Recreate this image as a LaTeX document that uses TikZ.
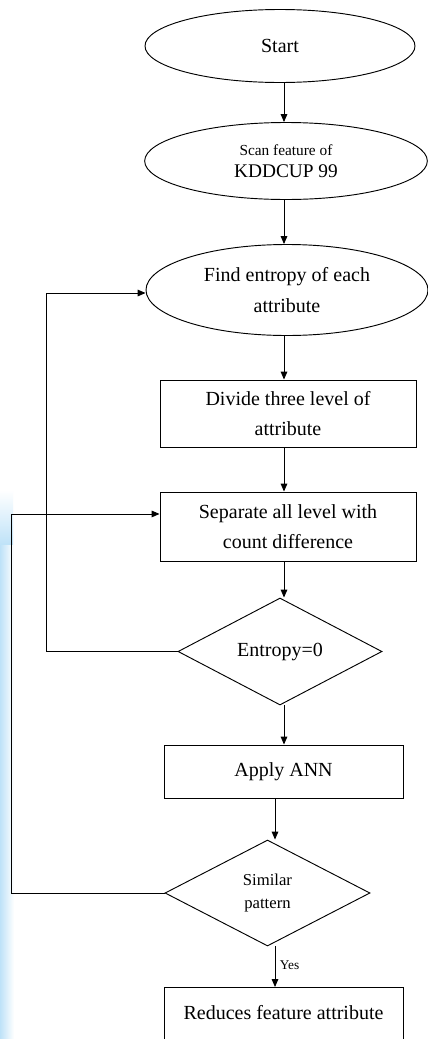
\documentclass[tikz,border=0pt]{standalone}
\usepackage{fontspec}
\setmainfont{Liberation Serif}
\usetikzlibrary{shapes.geometric,arrows.meta}
\definecolor{edgeblue}{RGB}{190,226,248}
\begin{document}
\begin{tikzpicture}[x=0.75pt,y=-0.75pt, line width=0.7pt,
  arr/.style={-{Triangle[length=6pt,width=5pt]}},
  oval/.style={ellipse,draw,inner sep=0pt,align=center,font=\fontsize{15}{23}\selectfont},
  procbox/.style={rectangle,draw,inner sep=0pt,align=center,font=\fontsize{15}{23}\selectfont},
  decision/.style={diamond,draw,inner sep=0pt,align=center,font=\fontsize{15}{18}\selectfont}]
\useasboundingbox (0,0) rectangle (428,1039);
\clip (0,0) rectangle (428,1039);
\fill[white] (0,0) rectangle (428,1039);
% light blue strip on the left edge
\shade[top color=white,bottom color=edgeblue] (0,490) rectangle (13,545);
\shade[left color=edgeblue,right color=white] (0,545) rectangle (14,1039);

\node[oval,minimum width=202.5pt,minimum height=54.75pt] (start) at (280,46) {Start};
\node[oval,minimum width=212pt,minimum height=57.75pt,font=\fontsize{14.5}{16.5}\selectfont] (scan) at (286,161)
  {{\fontsize{11.5}{16.5}\selectfont Scan feature of}\\KDDCUP 99};
\node[oval,minimum width=211.5pt,minimum height=68.25pt] (find) at (287,290) {Find entropy of each\\attribute};
\node[procbox,minimum width=192pt,minimum height=50.25pt] (divide) at (288,413.5) {Divide three level of\\attribute};
\node[procbox,minimum width=192pt,minimum height=51.75pt] (sep) at (288,526.5) {Separate all level with\\count difference};
\node[decision,minimum width=153pt,minimum height=80.25pt] (entropy) at (280,651.5) {Entropy=0};
\node[procbox,minimum width=179.25pt,minimum height=39.75pt] (ann) at (283.5,771.5) {Apply ANN};
\node[decision,minimum width=153.75pt,minimum height=79.5pt,font=\fontsize{12.5}{17.5}\selectfont] (similar) at (267.5,893) {Similar\\pattern};
\node[procbox,minimum width=179.25pt,minimum height=60pt,anchor=north] (reduce) at (283.5,987) {Reduces feature attribute\\ \mbox{}};

\coordinate (colA) at (284,0);
\coordinate (colB) at (275,0);
\draw[arr] (colA |- start.south) -- (colA |- scan.north);
\draw[arr] (colA |- scan.south) -- (colA |- find.north);
\draw[arr] (colA |- find.south) -- (colA |- divide.north);
\draw[arr] (colA |- divide.south) -- (colA |- sep.north);
\draw[arr] (colA |- sep.south) -- (colA |- entropy.north);
\draw[arr] (colA |- entropy.south) -- (colA |- ann.north);
\draw[arr] (colB |- ann.south) -- (colB |- similar.north);
\draw[arr] (colB |- similar.south) -- node[right,pos=0.45,font=\fontsize{10}{12}\selectfont]{Yes} (colB |- reduce.north);

\draw[arr] (entropy.west) -- ++(-131,0) |- ([yshift=-2.25pt]find.west);
\draw[arr] (similar.west) -- ++(-153,0) |- ([yshift=9.4pt]sep.west);
\end{tikzpicture}
\end{document}
